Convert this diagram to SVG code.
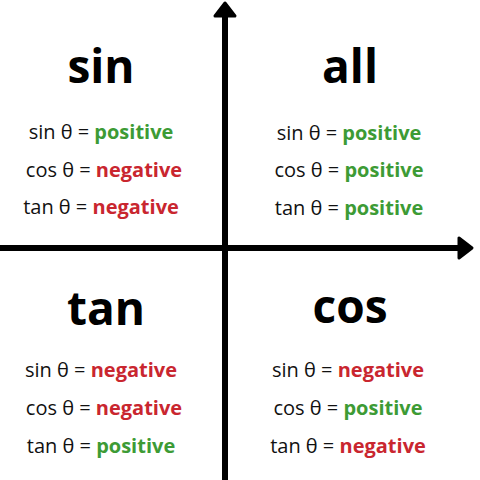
<svg xmlns="http://www.w3.org/2000/svg" width="480" height="480" viewBox="0 0 480 480">
<style>
.t{font-family:"Open Sans","DejaVu Sans",sans-serif;font-weight:700;font-size:46px;fill:#000;text-anchor:middle}
.r{font-family:"Open Sans","DejaVu Sans",sans-serif;font-size:20px;fill:#111;text-anchor:middle}
.p{fill:#3d9b35;font-weight:700}
.n{fill:#c9262f;font-weight:700}
.ax{stroke:#000;stroke-width:6;fill:none}
.ah{fill:#000;stroke:#000;stroke-width:3;stroke-linejoin:round}
</style>
<rect width="480" height="480" fill="#fff"/>
<g id="axes">
<line class="ax" x1="225" y1="14" x2="225" y2="480"/>
<polygon class="ah" points="225,3 235,16 215,16"/>
<line class="ax" x1="0" y1="248" x2="461" y2="248"/>
<polygon class="ah" points="472,248 459,238 459,258"/>
</g>
<g id="q2">
<text class="t" x="101" y="83">sin</text>
<text class="r" x="101" y="139">sin θ = <tspan class="p">positive</tspan></text>
<text class="r" x="104" y="177">cos θ = <tspan class="n">negative</tspan></text>
<text class="r" x="101" y="214">tan θ = <tspan class="n">negative</tspan></text>
</g>
<g id="q1">
<text class="t" x="350" y="83">all</text>
<text class="r" x="349" y="140">sin θ = <tspan class="p">positive</tspan></text>
<text class="r" x="349" y="177">cos θ = <tspan class="p">positive</tspan></text>
<text class="r" x="349" y="215">tan θ = <tspan class="p">positive</tspan></text>
</g>
<g id="q3">
<text class="t" x="106" y="325">tan</text>
<text class="r" x="101" y="377">sin θ = <tspan class="n">negative</tspan></text>
<text class="r" x="104" y="415">cos θ = <tspan class="n">negative</tspan></text>
<text class="r" x="101" y="453">tan θ = <tspan class="p">positive</tspan></text>
</g>
<g id="q4">
<text class="t" x="350" y="323">cos</text>
<text class="r" x="348" y="377">sin θ = <tspan class="n">negative</tspan></text>
<text class="r" x="348" y="415">cos θ = <tspan class="p">positive</tspan></text>
<text class="r" x="348" y="453">tan θ = <tspan class="n">negative</tspan></text>
</g>
</svg>
